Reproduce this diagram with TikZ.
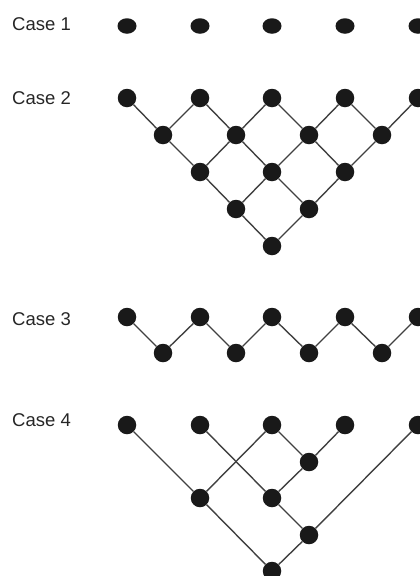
\documentclass[tikz,border=0pt]{standalone}
\usepackage{fontspec}
\setmainfont{Liberation Sans}
\usetikzlibrary{shapes.geometric,backgrounds}
\begin{document}
\begin{tikzpicture}[x=1pt,y=-1pt,
  dot/.style={circle,fill=black!90,draw=none,minimum size=18.5pt,inner sep=0pt},
  flat/.style={ellipse,fill=black!90,draw=none,minimum width=19pt,minimum height=15.5pt,inner sep=0pt},
  lbl/.style={anchor=base west,inner sep=0pt,font=\fontsize{18.5}{20}\selectfont,text=black!85},
  edge/.style={draw=black!75,line width=1.4pt}]
\useasboundingbox (0,0) rectangle (420,576);
% labels
\node[lbl] (l1) at (12,30) {Case 1};
\node[lbl] (l2) at (12,104) {Case 2};
\node[lbl] (l3) at (12,325) {Case 3};
\node[lbl] (l4) at (12,426) {Case 4};
% Case 1
\foreach \i/\x in {1/127,2/200,3/272,4/345,5/418}
  \node[flat] (a\i) at (\x,26) {};
% Case 2
\foreach \i/\x in {1/127,2/200,3/272,4/345,5/418}
  \node[dot] (b1\i) at (\x,98) {};
\foreach \i/\x in {1/163,2/236,3/309,4/382}
  \node[dot] (b2\i) at (\x,135) {};
\foreach \i/\x in {1/200,2/272,3/345}
  \node[dot] (b3\i) at (\x,172) {};
\foreach \i/\x in {1/236,2/309}
  \node[dot] (b4\i) at (\x,209) {};
\node[dot] (b51) at (272,246) {};
% Case 3
\foreach \i/\x in {1/127,2/200,3/272,4/345,5/418}
  \node[dot] (c1\i) at (\x,317) {};
\foreach \i/\x in {1/163,2/236,3/309,4/382}
  \node[dot] (c2\i) at (\x,353) {};
% Case 4
\foreach \i/\x in {1/127,2/200,3/272,4/345,5/418}
  \node[dot] (d1\i) at (\x,425) {};
\node[dot] (d21) at (309,462) {};
\node[dot] (d31) at (200,498) {};
\node[dot] (d32) at (272,498) {};
\node[dot] (d41) at (309,535) {};
\node[dot] (d51) at (272,571) {};
\begin{scope}[on background layer]
\foreach \a/\b in {b11/b21,b12/b21,b12/b22,b13/b22,b13/b23,b14/b23,b14/b24,b15/b24,
  b21/b31,b22/b31,b22/b32,b23/b32,b23/b33,b24/b33,
  b31/b41,b32/b41,b32/b42,b33/b42,b41/b51,b42/b51}
  \draw[edge] (\a) -- (\b);
\foreach \a/\b in {c11/c21,c12/c21,c12/c22,c13/c22,c13/c23,c14/c23,c14/c24,c15/c24}
  \draw[edge] (\a) -- (\b);
\foreach \a/\b in {d11/d31,d31/d51,d12/d32,d32/d41,d13/d31,d13/d21,d21/d14,d21/d32,d41/d15,d41/d51}
  \draw[edge] (\a) -- (\b);
\end{scope}
\end{tikzpicture}
\end{document}
